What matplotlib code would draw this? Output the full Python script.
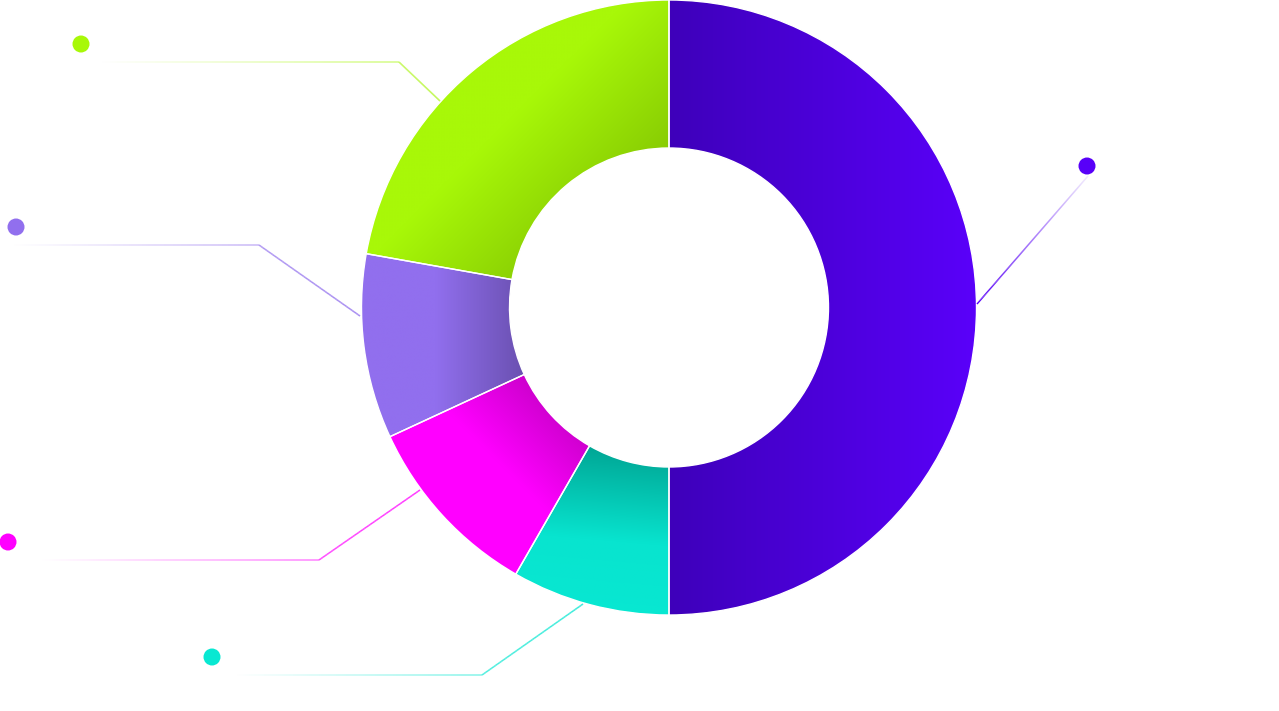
import numpy as np
import matplotlib
matplotlib.use("Agg")
import matplotlib.pyplot as plt
from matplotlib.collections import LineCollection
from matplotlib.colors import to_rgb
from matplotlib.patches import Circle

W, H = 1279, 711

# slice shares, in drawing order (clockwise from 12 o'clock)
names = ["purple", "teal", "magenta", "lavender", "green"]
values = [50.0, 8.3, 9.8, 9.7, 22.2]
dot_colors = ["#5800f8", "#08e8d2", "#ff00ff", "#916fee", "#a8f808"]

# gradient fill per slice: direction (deg, y up) and colour stops
grad_angle = [0, -95, 225, 0, -45]
grad_stops = [
    [(0.0, "#3e00ba"), (1.0, "#5a00fa")],
    [(0.0, "#00a190"), (0.55, "#08e4cf"), (1.0, "#08e8d2")],
    [(0.0, "#b000b0"), (0.45, "#ff00ff"), (1.0, "#ff00ff")],
    [(0.0, "#916fee"), (0.45, "#916fee"), (1.0, "#6a50b0")],
    [(0.0, "#a8f808"), (0.45, "#a8f808"), (1.0, "#72ae00")],
]

# label layout in pixels: dot centre, line start, elbow, ring anchor
dot_px = [(1087, 166), (212, 657), (8, 542), (16, 227), (81, 44)]
line_start_px = [None, (235, 675), (40, 560), (12, 245), (100, 62)]
elbow_px = [None, (482, 675), (319, 560), (259, 245), (399, 62)]
anchor_px = [(977, 304), (583, 604), (420, 490), (360, 316), (440, 101)]
tick_end_px = [(1088, 176), None, None, None, None]

center_px = (669, 307.5)
r_out, r_in = 307.5, 159.5


def px(p):
    return (p[0], H - p[1])


def gradient_img(bbox, angle, stops, n=300):
    xs = np.linspace(bbox.x0, bbox.x1, n)
    ys = np.linspace(bbox.y0, bbox.y1, n)
    X, Y = np.meshgrid(xs, ys)
    a = np.deg2rad(angle)
    proj = X * np.cos(a) + Y * np.sin(a)
    t = (proj - proj.min()) / (proj.max() - proj.min())
    pos = [s[0] for s in stops]
    cols = np.array([to_rgb(s[1]) for s in stops])
    img = np.zeros((n, n, 3))
    for c in range(3):
        img[..., c] = np.interp(t, pos, cols[:, c])
    return img


def fade_line(ax, p0, p1, color, a0, a1, lw=1.1, n=120):
    x = np.linspace(p0[0], p1[0], n + 1)
    y = np.linspace(p0[1], p1[1], n + 1)
    segs = np.stack([np.column_stack([x[:-1], y[:-1]]),
                     np.column_stack([x[1:], y[1:]])], axis=1)
    rgb = to_rgb(color)
    alphas = np.linspace(a0, a1, n)
    cols = [(rgb[0], rgb[1], rgb[2], al) for al in alphas]
    ax.add_collection(LineCollection(segs, colors=cols, linewidths=lw,
                                     capstyle="butt", zorder=3))


fig = plt.figure(figsize=(W / 100, H / 100), dpi=100)
ax = fig.add_axes([0, 0, 1, 1])

wedges, _ = ax.pie(values, radius=r_out, center=px(center_px),
                   startangle=90, counterclock=False,
                   wedgeprops=dict(width=r_out - r_in, edgecolor="white",
                                   linewidth=1.0))

for i, w in enumerate(wedges):
    w.set_facecolor("none")
    w.set_zorder(2)
    bb = w.get_path().get_extents()
    img = gradient_img(bb, grad_angle[i], grad_stops[i])
    im = ax.imshow(img, extent=(bb.x0, bb.x1, bb.y0, bb.y1), origin="lower",
                   interpolation="bilinear", zorder=1)
    im.set_clip_path(w)

# leader lines and dots
for i in range(len(values)):
    col = dot_colors[i]
    if elbow_px[i] is None:
        fade_line(ax, px(anchor_px[i]), px(tick_end_px[i]), col, 1.0, 0.08)
    else:
        fade_line(ax, px(line_start_px[i]), px(elbow_px[i]), col, 0.0, 0.5)
        fade_line(ax, px(elbow_px[i]), px(anchor_px[i]), col, 0.75, 0.85)
    ax.add_patch(Circle(px(dot_px[i]), 8.5, facecolor=col, edgecolor="none",
                        zorder=4))

ax.set_xlim(0, W)
ax.set_ylim(0, H)
ax.set_aspect("equal")
ax.axis("off")

fig.savefig("out.png", dpi=100, facecolor="white")
